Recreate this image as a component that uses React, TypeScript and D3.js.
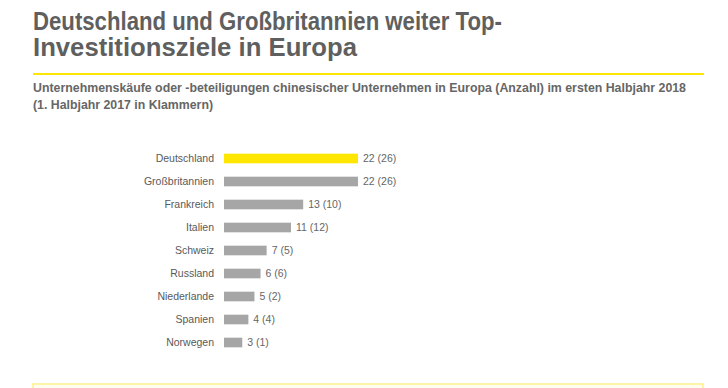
import * as d3 from "d3";
import React, { useRef, useEffect } from "react";

const countries = [
  "Deutschland",
  "Großbritannien",
  "Frankreich",
  "Italien",
  "Schweiz",
  "Russland",
  "Niederlande",
  "Spanien",
  "Norwegen",
];
const deals2018 = [22, 22, 13, 11, 7, 6, 5, 4, 3];
const deals2017 = [26, 26, 10, 12, 5, 6, 2, 4, 1];

const W = 728;
const H = 388;

export default function App() {
  const ref = useRef<SVGSVGElement>(null);

  useEffect(() => {
    const svg = d3.select(ref.current);
    svg.selectAll("*").remove();

    const font = "Liberation Sans, Arial, sans-serif";

    // title (narrow-ish face in original, so squeeze it)
    const title = svg
      .append("text")
      .attr("font-family", font)
      .attr("font-weight", "bold")
      .attr("font-size", 25)
      .attr("fill", "#5f5f5f");
    title
      .append("tspan")
      .attr("x", 33)
      .attr("y", 30)
      .attr("textLength", 469)
      .attr("lengthAdjust", "spacingAndGlyphs")
      .text("Deutschland und Großbritannien weiter Top-");
    title
      .append("tspan")
      .attr("x", 33)
      .attr("y", 56)
      .attr("textLength", 324)
      .attr("lengthAdjust", "spacingAndGlyphs")
      .text("Investitionsziele in Europa");

    svg
      .append("line")
      .attr("x1", 33)
      .attr("x2", 704)
      .attr("y1", 74)
      .attr("y2", 74)
      .attr("stroke", "#ffe600")
      .attr("stroke-width", 2);

    const sub = svg
      .append("text")
      .attr("font-family", font)
      .attr("font-weight", "bold")
      .attr("font-size", 12.3)
      .attr("fill", "#666");
    sub
      .append("tspan")
      .attr("x", 33)
      .attr("y", 92)
      .attr("textLength", 653)
      .attr("lengthAdjust", "spacingAndGlyphs")
      .text(
        "Unternehmenskäufe oder -beteiligungen chinesischer Unternehmen in Europa (Anzahl) im ersten Halbjahr 2018"
      );
    sub
      .append("tspan")
      .attr("x", 33)
      .attr("y", 109)
      .attr("textLength", 180)
      .attr("lengthAdjust", "spacingAndGlyphs")
      .text("(1. Halbjahr 2017 in Klammern)");

    const x = d3.scaleLinear().domain([0, 22]).range([224, 358]);
    const y = d3.scaleBand<string>().domain(countries).range([147, 354]).paddingInner(0.58).paddingOuter(0.29);

    const g = svg.append("g");

    g.selectAll(".bar")
      .data(countries)
      .enter()
      .append("rect")
      .attr("class", "bar")
      .attr("x", x(0))
      .attr("y", (d) => y(d)!)
      .attr("width", (d, i) => x(deals2018[i]) - x(0))
      .attr("height", y.bandwidth())
      .attr("fill", (d, i) => (i === 0 ? "#ffe600" : "#a6a6a6"));

    g.selectAll(".cat")
      .data(countries)
      .enter()
      .append("text")
      .attr("class", "cat")
      .attr("x", 214)
      .attr("y", (d) => y(d)! + y.bandwidth() / 2)
      .attr("dy", "0.35em")
      .attr("text-anchor", "end")
      .attr("font-family", font)
      .attr("font-size", 10.5)
      .attr("fill", "#595959")
      .text((d) => d);

    g.selectAll(".val")
      .data(countries)
      .enter()
      .append("text")
      .attr("class", "val")
      .attr("x", (d, i) => x(deals2018[i]) + 5)
      .attr("y", (d) => y(d)! + y.bandwidth() / 2)
      .attr("dy", "0.35em")
      .attr("font-family", font)
      .attr("font-size", 10.5)
      .attr("fill", "#666")
      .text((d, i) => deals2018[i] + " (" + deals2017[i] + ")");

    // bottom box
    svg
      .append("rect")
      .attr("x", 33)
      .attr("y", 384)
      .attr("width", 670)
      .attr("height", 20)
      .attr("fill", "#fffef0")
      .attr("stroke", "#fff08a")
      .attr("stroke-width", 1.5);
  }, []);

  return (
    <svg
      ref={ref}
      width={W}
      height={H}
      style={{ position: "absolute", left: 0, top: 0, background: "#fff" }}
    ></svg>
  );
}
